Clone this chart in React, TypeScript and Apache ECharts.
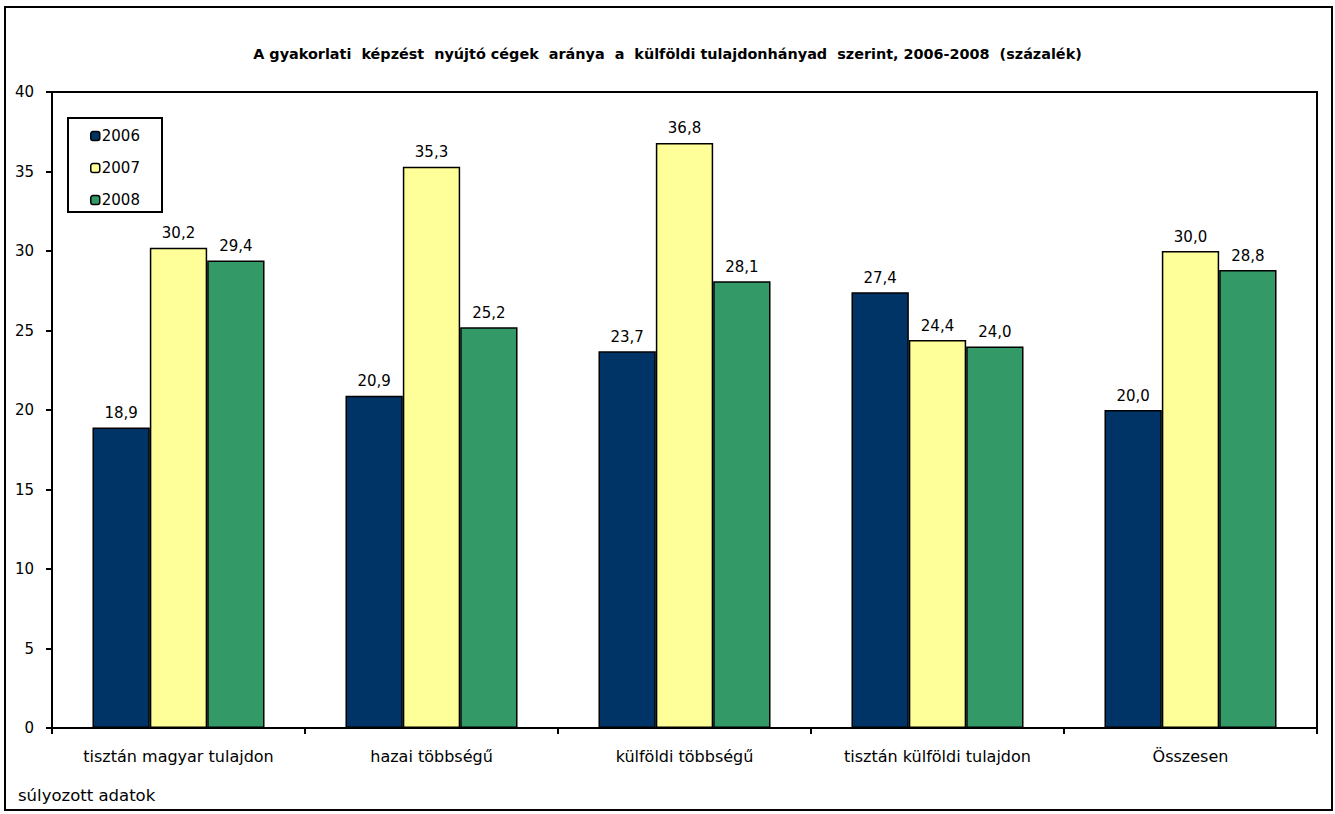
import React, { useEffect, useRef } from "react";
import * as echarts from "echarts";

const categories = [
  "tisztán magyar tulajdon",
  "hazai többségű",
  "külföldi többségű",
  "tisztán külföldi tulajdon",
  "Összesen",
];
const s2006 = [18.9, 20.9, 23.7, 27.4, 20.0];
const s2007 = [30.2, 35.3, 36.8, 24.4, 30.0];
const s2008 = [29.4, 25.2, 28.1, 24.0, 28.8];
const seriesNames = ["2006", "2007", "2008"];
const colors = ["#003366", "#FFFF99", "#339966"];
const titleText =
  "A gyakorlati  képzést  nyújtó cégek  aránya  a  külföldi tulajdonhányad  szerint, 2006-2008  (százalék)";
const noteText = "súlyozott adatok";

export default function App() {
  const ref = useRef<HTMLDivElement>(null);
  useEffect(() => {
    document.body.style.margin = "0";
    const chart = echarts.init(ref.current!, null, { renderer: "svg" });
    const font = "'DejaVu Sans', sans-serif";
    const data = [s2006, s2007, s2008];
    chart.setOption({
      animation: false,
      backgroundColor: "#fff",
      textStyle: { fontFamily: font },
      title: {
        text: titleText,
        left: "center",
        top: 42,
        textStyle: { fontSize: 14.4, fontWeight: "bold", color: "#000", fontFamily: font },
      },
      legend: {
        orient: "vertical",
        left: 85,
        top: 123,
        z: 10,
        itemWidth: 9,
        itemHeight: 9,
        itemGap: 16,
        data: seriesNames,
        textStyle: { fontSize: 15, lineHeight: 16, color: "#000", fontFamily: font, padding: [0, 0, 0, -3] },
        itemStyle: { borderColor: "#000", borderWidth: 1.5 },
      },
      grid: { left: 52, right: 18, top: 92, bottom: 86, show: true, borderColor: "#000", borderWidth: 2 },
      xAxis: {
        type: "category",
        data: categories,
        axisLine: { lineStyle: { color: "#000", width: 2 } },
        axisTick: { show: true, length: 6, lineStyle: { color: "#000", width: 2 } },
        axisLabel: { color: "#000", fontSize: 16, margin: 20, fontFamily: font },
      },
      yAxis: {
        type: "value",
        min: 0,
        max: 40,
        interval: 5,
        splitLine: { show: false },
        axisLine: { show: true, lineStyle: { color: "#000", width: 2 } },
        axisTick: { show: true, length: 6, lineStyle: { color: "#000", width: 2 } },
        axisLabel: { color: "#000", fontSize: 15, margin: 18, fontFamily: font },
      },
      series: seriesNames.map((n, i) => ({
        name: n,
        type: "bar",
        data: data[i],
        barGap: "0%",
        barCategoryGap: "32%",
        itemStyle: { color: colors[i], borderColor: "#000", borderWidth: 1.5 },
        label: {
          show: true,
          position: "top",
          distance: 7,
          color: "#000",
          fontSize: 15,
          fontFamily: font,
          formatter: (p: any) => p.value.toFixed(1).replace(".", ","),
        },
      })),
      graphic: [
        {
          type: "rect",
          shape: { x: 5, y: 7, width: 1327, height: 803 },
          style: { fill: "none", stroke: "#000", lineWidth: 2 },
          z: -1,
        },
        {
          type: "rect",
          shape: { x: 68, y: 118, width: 94, height: 94 },
          style: { fill: "#fff", stroke: "#000", lineWidth: 2 },
          z: 5,
        },
        {
          type: "text",
          left: 18,
          top: 787,
          style: { text: noteText, fontSize: 16.5, fill: "#000", fontFamily: font },
        },
      ],
    });
    return () => chart.dispose();
  }, []);
  return <div ref={ref} style={{ width: 1335, height: 814 }} />;
}
